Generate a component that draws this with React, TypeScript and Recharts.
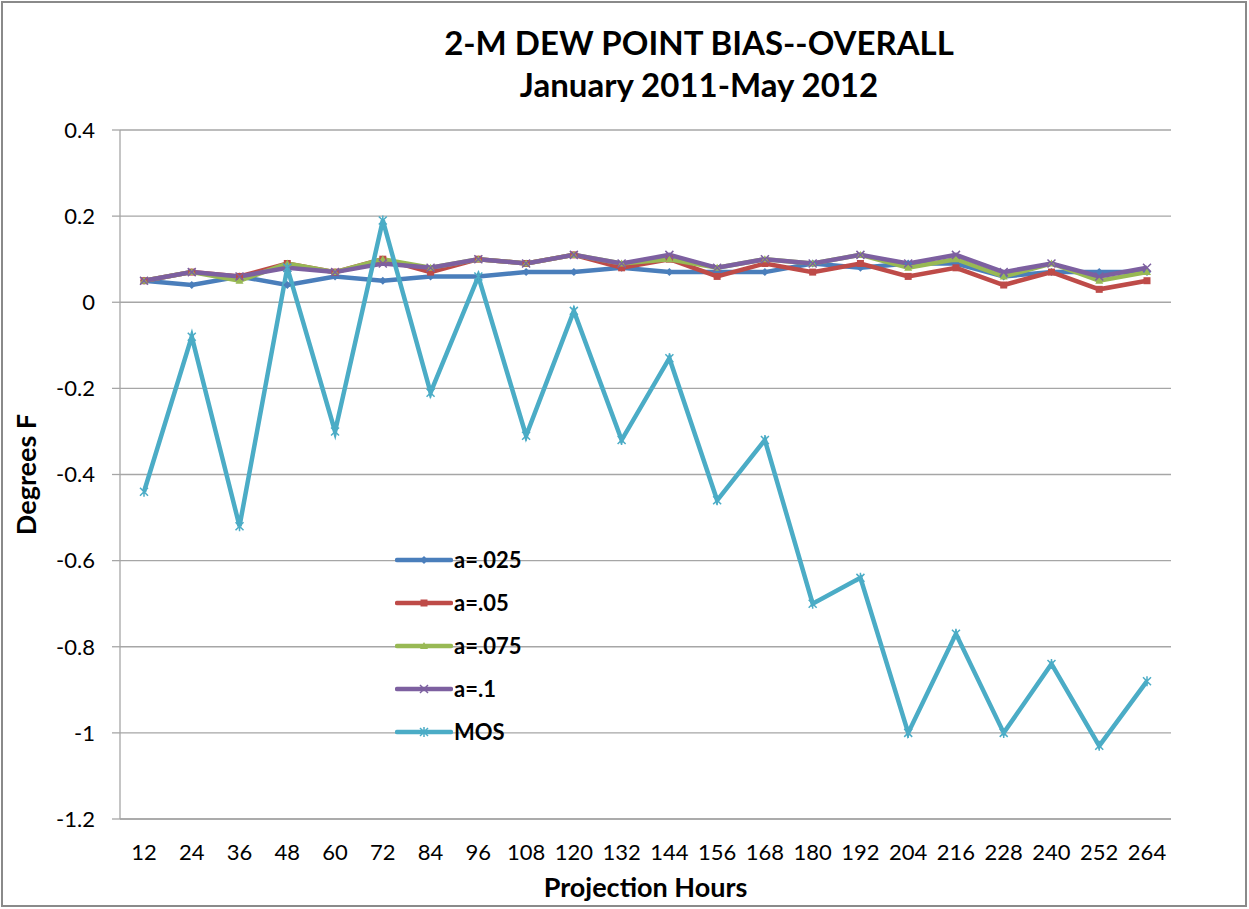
import { LineChart, Line, XAxis, YAxis, CartesianGrid, Legend, Label } from "recharts";

const hours = [12, 24, 36, 48, 60, 72, 84, 96, 108, 120, 132, 144, 156, 168, 180, 192, 204, 216, 228, 240, 252, 264];

const a025 = [0.05, 0.04, 0.06, 0.04, 0.06, 0.05, 0.06, 0.06, 0.07, 0.07, 0.08, 0.07, 0.07, 0.07, 0.09, 0.08, 0.09, 0.09, 0.06, 0.07, 0.07, 0.07];
const a05 = [0.05, 0.07, 0.06, 0.09, 0.07, 0.1, 0.07, 0.1, 0.09, 0.11, 0.08, 0.1, 0.06, 0.09, 0.07, 0.09, 0.06, 0.08, 0.04, 0.07, 0.03, 0.05];
const a075 = [0.05, 0.07, 0.05, 0.09, 0.07, 0.1, 0.08, 0.1, 0.09, 0.11, 0.09, 0.1, 0.08, 0.1, 0.09, 0.11, 0.08, 0.1, 0.06, 0.09, 0.05, 0.07];
const a1 = [0.05, 0.07, 0.06, 0.08, 0.07, 0.09, 0.08, 0.1, 0.09, 0.11, 0.09, 0.11, 0.08, 0.1, 0.09, 0.11, 0.09, 0.11, 0.07, 0.09, 0.06, 0.08];
const mos = [-0.44, -0.08, -0.52, 0.08, -0.3, 0.19, -0.21, 0.06, -0.31, -0.02, -0.32, -0.13, -0.46, -0.32, -0.7, -0.64, -1.0, -0.77, -1.0, -0.84, -1.03, -0.88];

const yTicks = [-1.2, -1, -0.8, -0.6, -0.4, -0.2, 0, 0.2, 0.4];

const data = hours.map((h, i) => ({
  hour: h,
  a025: a025[i],
  a05: a05[i],
  a075: a075[i],
  a1: a1[i],
  mos: mos[i],
}));

const series = [
  { key: "a025", name: "a=.025", color: "#4A7EBB", shape: "diamond" },
  { key: "a05", name: "a=.05", color: "#BE4B48", shape: "square" },
  { key: "a075", name: "a=.075", color: "#98B954", shape: "triangle" },
  { key: "a1", name: "a=.1", color: "#7D60A0", shape: "x" },
  { key: "mos", name: "MOS", color: "#4BACC6", shape: "star" },
];

const FONT = "Lato, 'Liberation Sans', sans-serif";

const Marker = ({ cx, cy, shape, color }: { cx: number; cy: number; shape: string; color: string }) => {
  if (cx == null || cy == null) return null;
  const s = 4;
  if (shape === "diamond")
    return <path d={`M${cx},${cy - s} L${cx + s},${cy} L${cx},${cy + s} L${cx - s},${cy} Z`} fill={color} />;
  if (shape === "square") return <rect x={cx - s + 0.5} y={cy - s + 0.5} width={2 * s - 1} height={2 * s - 1} fill={color} />;
  if (shape === "triangle")
    return <path d={`M${cx},${cy - s} L${cx + s},${cy + s - 1} L${cx - s},${cy + s - 1} Z`} fill={color} />;
  if (shape === "x")
    return (
      <path d={`M${cx - s},${cy - s} L${cx + s},${cy + s} M${cx + s},${cy - s} L${cx - s},${cy + s}`} stroke={color} strokeWidth={1.5} />
    );
  return (
    <path
      d={`M${cx - s},${cy - s} L${cx + s},${cy + s} M${cx + s},${cy - s} L${cx - s},${cy + s} M${cx},${cy - s - 1} L${cx},${cy + s + 1}`}
      stroke={color}
      strokeWidth={1.5}
    />
  );
};

const LegendBox = () => (
  <div style={{ fontFamily: FONT }}>
    {series.map((s) => (
      <div key={s.key} style={{ display: "flex", alignItems: "center", height: 43 }}>
        <svg width={58} height={12}>
          <line x1={2} y1={6} x2={56} y2={6} stroke={s.color} strokeWidth={4.5} strokeLinecap="round" />
          <Marker cx={29} cy={6} shape={s.shape} color={s.color} />
        </svg>
        <span style={{ fontSize: 22, fontWeight: 700, color: "#000", marginLeft: 1 }}>{s.name}</span>
      </div>
    ))}
  </div>
);

export default function App() {
  return (
    <div style={{ position: "absolute", left: 0, top: 0, width: 1249, height: 909, background: "#fff" }}>
      <div
        style={{
          position: "absolute",
          left: 1,
          top: 1,
          width: 1246,
          height: 906,
          border: "2px solid #8a8a8a",
          boxSizing: "border-box",
        }}
      />
      <div
        style={{
          position: "absolute",
          left: 0,
          top: 21,
          width: 1398,
          textAlign: "center",
          fontFamily: FONT,
          fontWeight: 700,
          fontSize: 33,
          lineHeight: "42px",
          color: "#000",
        }}
      >
        <div>2-M DEW POINT BIAS--OVERALL</div>
        <div>January 2011-May 2012</div>
      </div>
      <LineChart width={1249} height={909} data={data} margin={{ top: 130, right: 78, bottom: 0, left: 0 }}>
        <CartesianGrid vertical={false} stroke="#A6A6A6" strokeWidth={1.3} />
        <XAxis
          dataKey="hour"
          height={90}
          padding={{ left: 24, right: 24 }}
          tickLine={false}
          tickSize={0}
          tickMargin={25}
          axisLine={{ stroke: "#A6A6A6", strokeWidth: 1.3 }}
          tick={{ fill: "#000", fontSize: 22, fontFamily: FONT }}
          interval={0}
        >
          <Label
            value="Projection Hours"
            position="insideBottom"
            offset={12}
            style={{ fill: "#000", fontSize: 27, fontWeight: 700, fontFamily: FONT }}
          />
        </XAxis>
        <YAxis
          width={120}
          domain={[-1.2, 0.4]}
          ticks={yTicks}
          tickSize={8}
          tickMargin={17}
          tickLine={{ stroke: "#A6A6A6", strokeWidth: 1.3 }}
          axisLine={{ stroke: "#A6A6A6", strokeWidth: 1.3 }}
          tick={{ fill: "#000", fontSize: 22, fontFamily: FONT }}
          tickFormatter={(v: number) => String(Math.round(v * 10) / 10)}
        >
          <Label
            value="Degrees F"
            angle={-90}
            position="insideLeft"
            offset={26}
            style={{ fill: "#000", fontSize: 27, fontWeight: 700, fontFamily: FONT, textAnchor: "middle" }}
          />
        </YAxis>
        <Legend
          layout="vertical"
          align="center"
          verticalAlign="middle"
          content={() => <LegendBox />}
          wrapperStyle={{ position: "absolute", left: 395, top: 538, width: 180, height: 220 }}
        />
        {series.map((s) => (
          <Line
            key={s.key}
            dataKey={s.key}
            name={s.name}
            stroke={s.color}
            strokeWidth={4.5}
            isAnimationActive={false}
            dot={(p: any) => <Marker key={`${s.key}-${p.index}`} cx={p.cx} cy={p.cy} shape={s.shape} color={s.color} />}
            activeDot={false}
          />
        ))}
      </LineChart>
    </div>
  );
}
